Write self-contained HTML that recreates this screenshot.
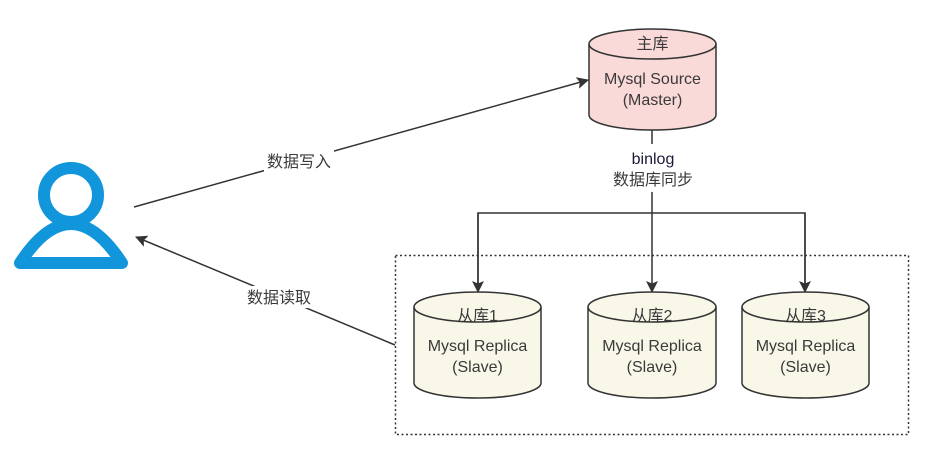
<!DOCTYPE html>
<html><head><meta charset="utf-8"><style>
html,body{margin:0;padding:0;background:#fff;}
svg{display:block;}
text{font-family:"Liberation Sans","Noto Sans CJK SC",sans-serif;font-size:16px;fill:#3a3a3a;text-anchor:middle;}
</style></head><body>
<svg width="934" height="473" viewBox="0 0 934 473" xmlns="http://www.w3.org/2000/svg">
<defs>
<marker id="a" markerWidth="12" markerHeight="12" refX="11" refY="6" orient="auto" markerUnits="userSpaceOnUse" viewBox="0 0 12 12">
<path d="M0,0 L12,6 L0,12 L2.5,6 Z" fill="#333"/>
</marker>
</defs>
<!-- user icon -->
<circle cx="71" cy="195" r="27" fill="none" stroke="#1296db" stroke-width="12"/>
<path d="M20,263 Q71,185 122,263 Z" fill="none" stroke="#1296db" stroke-width="12" stroke-linejoin="round"/>
<!-- dashed box -->
<rect x="395.5" y="255.5" width="513" height="179" fill="none" stroke="#333" stroke-width="1.5" stroke-dasharray="2,2.5"/>
<!-- arrows -->
<line x1="134" y1="207" x2="588" y2="80" stroke="#333" stroke-width="1.5" marker-end="url(#a)"/>
<line x1="395" y1="345" x2="136" y2="237" stroke="#333" stroke-width="1.5" marker-end="url(#a)"/>
<rect x="264" y="150" width="70" height="22" fill="#fff"/>
<text x="299" y="167">数据写入</text>
<rect x="244" y="286" width="70" height="22" fill="#fff"/>
<text x="279" y="303">数据读取</text>
<!-- binlog -->
<path d="M652,130 V213" stroke="#333" stroke-width="1.5" fill="none"/>
<path d="M652,213 V292" stroke="#333" stroke-width="1.5" fill="none" marker-end="url(#a)"/>
<path d="M478,292 V213 H805 V292" stroke="#333" stroke-width="1.5" fill="none"/>
<path d="M478,213 V292" stroke="#333" stroke-width="1.5" fill="none" marker-end="url(#a)"/>
<path d="M805,213 V292" stroke="#333" stroke-width="1.5" fill="none" marker-end="url(#a)"/>
<rect x="608" y="144" width="90" height="48" fill="#fff"/>
<text x="653" y="164" style="fill:#1a1a3a">binlog</text>
<text x="653" y="185">数据库同步</text>
<!-- master -->
<path d="M589,44 A63.5,15 0 0 1 716,44 V115 A63.5,15 0 0 1 589,115 Z" fill="#fadad8" stroke="#333" stroke-width="1.5"/>
<path d="M589,44 A63.5,15 0 0 0 716,44" fill="none" stroke="#333" stroke-width="1.5"/>
<text x="652.5" y="49">主库</text>
<text x="652.5" y="84">Mysql Source</text>
<text x="652.5" y="105">(Master)</text>
<!-- slaves -->
<g>
<path d="M414,307 A63.5,15 0 0 1 541,307 V383 A63.5,15 0 0 1 414,383 Z" fill="#f9f7e8" stroke="#333" stroke-width="1.5"/>
<path d="M414,307 A63.5,15 0 0 0 541,307" fill="none" stroke="#333" stroke-width="1.5"/>
<text x="477.5" y="321">从库1</text>
<text x="477.5" y="351">Mysql Replica</text>
<text x="477.5" y="372">(Slave)</text>
</g>
<g>
<path d="M588,307 A64,15 0 0 1 716,307 V383 A64,15 0 0 1 588,383 Z" fill="#f9f7e8" stroke="#333" stroke-width="1.5"/>
<path d="M588,307 A64,15 0 0 0 716,307" fill="none" stroke="#333" stroke-width="1.5"/>
<text x="652" y="321">从库2</text>
<text x="652" y="351">Mysql Replica</text>
<text x="652" y="372">(Slave)</text>
</g>
<g>
<path d="M742,307 A63.5,15 0 0 1 869,307 V383 A63.5,15 0 0 1 742,383 Z" fill="#f9f7e8" stroke="#333" stroke-width="1.5"/>
<path d="M742,307 A63.5,15 0 0 0 869,307" fill="none" stroke="#333" stroke-width="1.5"/>
<text x="805.5" y="321">从库3</text>
<text x="805.5" y="351">Mysql Replica</text>
<text x="805.5" y="372">(Slave)</text>
</g>
</svg>
</body></html>
